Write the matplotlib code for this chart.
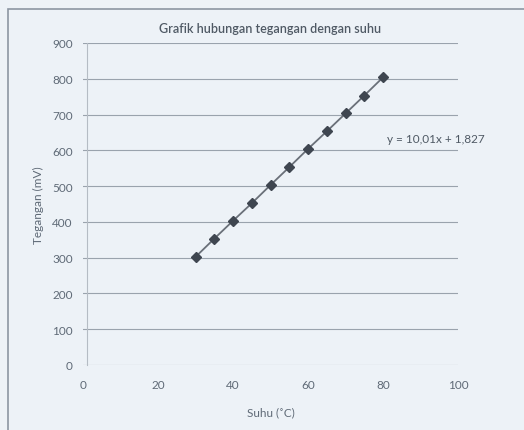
import matplotlib
matplotlib.use("Agg")
import matplotlib.pyplot as plt
from matplotlib.patches import Rectangle

# ============================
# Data
# ============================

suhu = [30, 35, 40, 45, 50, 55, 60, 65, 70, 75, 80]
tegangan = [302, 353, 403, 452, 503, 553, 604, 653, 703, 753, 804]
persamaan = "y = 10,01x + 1,827"

x_ticks = [0, 20, 40, 60, 80, 100]
y_ticks = [0, 100, 200, 300, 400, 500, 600, 700, 800, 900]

# ============================
# Figure
# ============================

plt.rcParams["font.family"] = ["Lato", "DejaVu Sans"]

bg = "#edf2f7"
txt = "#5f6a77"

fig = plt.figure(figsize=(5.24, 4.31), dpi=100, facecolor=bg)
fig.patches.append(Rectangle((8 / 524, -0.05), 1.1, 1 - 10 / 431 + 0.05,
                             transform=fig.transFigure, fill=False,
                             edgecolor="#8c96a2", linewidth=1.2))

ax = fig.add_axes([83 / 524, 65 / 431, 375 / 524, 322 / 431])
ax.set_facecolor(bg)

ax.plot(suhu, tegangan, color="#6a7079", linewidth=1.3, zorder=3)
ax.plot(suhu, tegangan, linestyle="none", marker="D", markersize=4.6,
        color="#3f4650", zorder=4)

ax.set_xlim(0, 100)
ax.set_ylim(0, 900)
ax.set_xticks(x_ticks)
ax.set_yticks(y_ticks)
ax.grid(axis="y", color="#9aa3ad", linewidth=0.8)
ax.set_axisbelow(True)

for s in ["top", "right", "bottom"]:
    ax.spines[s].set_visible(False)
ax.spines["left"].set_color("#b5bcc4")
ax.spines["left"].set_position(("data", 1))
ax.tick_params(length=0, labelsize=8.5, colors=txt, pad=10)

ax.set_title("Grafik hubungan tegangan dengan suhu", fontsize=9,
             color="#4f5964", fontweight="semibold", pad=8)
ax.set_xlabel("Suhu (˚C)", fontsize=8.5, color=txt, labelpad=12)
ax.set_ylabel("Tegangan (mV)", fontsize=8.5, color=txt, labelpad=6)

ax.text(81, 632, persamaan, fontsize=8.5, color="#4f5964", ha="left",
        va="center")

fig.savefig("out.png", dpi=100, facecolor=bg)
